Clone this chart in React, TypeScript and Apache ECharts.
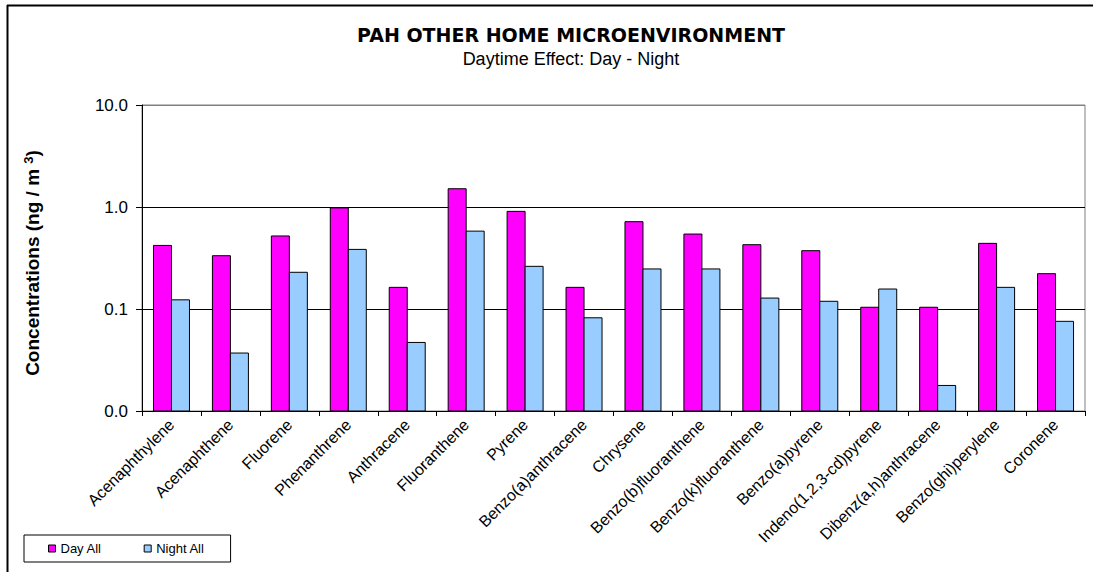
import React, { useEffect, useRef } from "react";
import * as echarts from "echarts";

const categories = [
  "Acenaphthylene",
  "Acenaphthene",
  "Fluorene",
  "Phenanthrene",
  "Anthracene",
  "Fluoranthene",
  "Pyrene",
  "Benzo(a)anthracene",
  "Chrysene",
  "Benzo(b)fluoranthene",
  "Benzo(k)fluoranthene",
  "Benzo(a)pyrene",
  "Indeno(1,2,3-cd)pyrene",
  "Dibenz(a,h)anthracene",
  "Benzo(ghi)perylene",
  "Coronene",
];
const dayAll = [0.42, 0.333, 0.52, 0.98, 0.163, 1.51, 0.906, 0.163, 0.718, 0.543, 0.427, 0.373, 0.104, 0.104, 0.44, 0.222];
const nightAll = [0.123, 0.037, 0.229, 0.384, 0.047, 0.58, 0.262, 0.082, 0.247, 0.247, 0.128, 0.119, 0.157, 0.0178, 0.163, 0.0757];
const yMin = 0.01;
const yMax = 10;

const FONT = "Liberation Sans, Arial, sans-serif";
const DAY_COLOR = "#FF00FF";
const NIGHT_COLOR = "#99CCFF";
const BAR_W = 18;

function barRenderer(color: string, side: number) {
  return (params: any, api: any) => {
    const idx = api.value(0);
    const val = api.value(1);
    const top = api.coord([idx, val]);
    const base = api.coord([idx, yMin]);
    const x = side < 0 ? top[0] - BAR_W : top[0];
    return {
      type: "rect",
      shape: { x: x, y: top[1], width: BAR_W, height: base[1] - top[1] },
      style: { fill: color, stroke: "#000", lineWidth: 1 },
    };
  };
}

export default function App() {
  const ref = useRef<HTMLDivElement>(null);
  useEffect(() => {
    if (!ref.current) return;
    document.documentElement.style.overflow = "hidden";
    const chart = echarts.init(ref.current, null, { renderer: "svg" });
    chart.setOption({
      animation: false,
      backgroundColor: "#ffffff",
      textStyle: { fontFamily: FONT },
      title: {
        text: "PAH OTHER HOME MICROENVIRONMENT",
        subtext: "Daytime Effect: Day - Night",
        left: 566,
        textAlign: "center",
        top: 20,
        itemGap: 6,
        textStyle: { fontFamily: "DejaVu Sans, sans-serif", fontSize: 19, fontWeight: "bold", color: "#000" },
        subtextStyle: { fontFamily: FONT, fontSize: 18, color: "#000" },
      },
      legend: {
        left: 24,
        top: 535,
        orient: "horizontal",
        data: ["Day All", "Night All"],
        itemWidth: 7,
        itemHeight: 7,
        itemGap: 42,
        padding: [7, 26, 7, 24],
        borderColor: "#000",
        borderWidth: 1,
        borderRadius: 0,
        itemStyle: { borderColor: "#000", borderWidth: 1 },
        textStyle: { fontFamily: FONT, fontSize: 13, color: "#000" },
        icon: "rect",
      },
      graphic: [
        {
          type: "line",
          shape: { x1: 7.5, y1: 5, x2: 7.5, y2: 580 },
          style: { stroke: "#000", lineWidth: 2 },
          silent: true,
        },
        {
          type: "line",
          shape: { x1: 7, y1: 5.5, x2: 1093, y2: 5.5 },
          style: { stroke: "#000", lineWidth: 2 },
          silent: true,
        },
        {
          type: "text",
          x: 32,
          y: 263,
          rotation: Math.PI / 2,
          style: {
            text: "{a|Concentrations (ng / m }{s|3}{a|)}",
            rich: {
              a: { fontFamily: FONT, fontSize: 19, fontWeight: "bold", fill: "#000" },
              s: { fontFamily: FONT, fontSize: 13, fontWeight: "bold", fill: "#000", verticalAlign: "top", padding: [0, 0, 8, 0] },
            },
            fontFamily: FONT,
            fontSize: 19,
            fontWeight: "bold",
            fill: "#000",
            align: "center",
            verticalAlign: "middle",
          },
        },
      ],
      grid: { left: 142, right: 8, top: 105, height: 306, containLabel: false, show: true, borderColor: "#808080", borderWidth: 1 },
      xAxis: {
        type: "category",
        data: categories,
        axisLine: { lineStyle: { color: "#000", width: 1 } },
        axisTick: { show: true, length: 5, lineStyle: { color: "#000" } },
        axisLabel: { rotate: 45, interval: 0, fontSize: 16, color: "#000", fontFamily: FONT, margin: 11 },
      },
      yAxis: {
        type: "log",
        logBase: 10,
        min: yMin,
        max: yMax,
        axisLine: { show: true, lineStyle: { color: "#000" } },
        axisTick: { show: true, inside: false, length: 6, lineStyle: { color: "#000" } },
        axisLabel: {
          fontSize: 17,
          color: "#000",
          fontFamily: FONT,
          margin: 14,
          formatter: (v: number) => v.toFixed(1),
        },
        splitLine: { show: true, lineStyle: { color: ["#000", "#000", "#000", "#808080"], width: 1 } },
      },
      series: [
        {
          name: "Day All",
          type: "custom",
          renderItem: barRenderer(DAY_COLOR, -1),
          encode: { x: 0, y: 1 },
          itemStyle: { color: DAY_COLOR },
          data: dayAll.map((v, i) => [i, v]),
        },
        {
          name: "Night All",
          type: "custom",
          renderItem: barRenderer(NIGHT_COLOR, 1),
          encode: { x: 0, y: 1 },
          itemStyle: { color: NIGHT_COLOR },
          data: nightAll.map((v, i) => [i, v]),
        },
      ],
    });
    return () => chart.dispose();
  }, []);
  return (
    <div
      ref={ref}
      style={{ position: "absolute", left: 0, top: 0, width: 1093, height: 572 }}
    />
  );
}
